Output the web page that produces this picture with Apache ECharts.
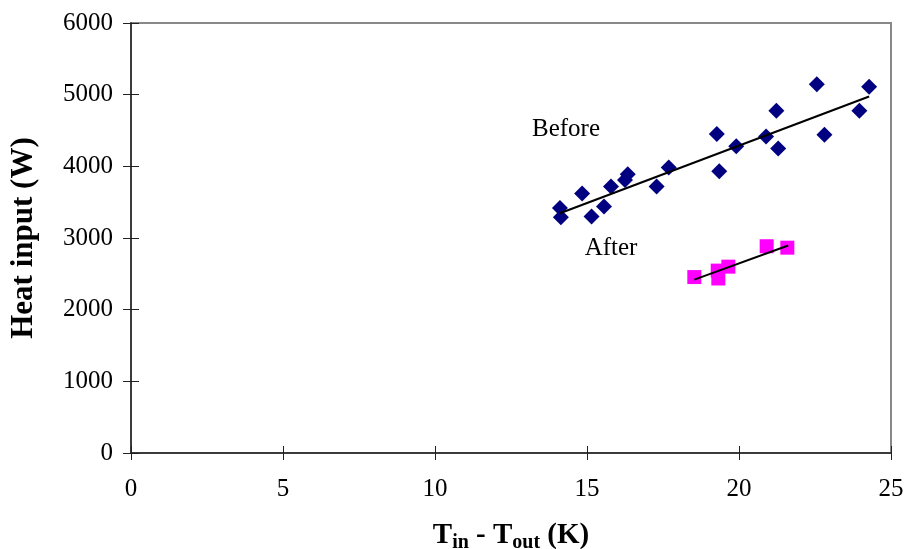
<!DOCTYPE html>
<html><head><meta charset="utf-8">
<script src="https://cdn.jsdelivr.net/npm/echarts@6/dist/echarts.min.js"></script>
<style>html,body{margin:0;padding:0;background:#fff}#c{width:906px;height:549px}</style>
</head><body><div id="c"></div>
<script>
const beforeX = [14.11,14.14,14.84,15.15,15.56,15.79,16.25,16.34,17.29,17.69,19.27,19.35,19.91,20.89,21.23,21.29,22.56,22.81,23.96,24.28];
const beforeY = [3420,3290,3620,3300,3440,3720,3810,3890,3720,3985,4450,3930,4280,4415,4775,4250,5145,4440,4775,5110];
const afterX = [18.53,19.30,19.32,19.65,20.91,21.59];
const afterY = [2455,2545,2435,2600,2885,2865];
const beforeTrendX = [14.11,24.28];
const beforeTrendY = [3345,4975];
const afterTrendX = [18.53,21.62];
const afterTrendY = [2420,2895];
const xTicks = [0,5,10,15,20,25];
const yTicks = [0,1000,2000,3000,4000,5000,6000];
const labels = [{name:'Before', x:14.31, y:4510},{name:'After', x:15.79, y:2855}];

const zip = (a,b)=>a.map((v,i)=>[v,b[i]]);
const font = 'Liberation Serif';
const chart = echarts.init(document.getElementById('c'), null, {renderer:'canvas'});
const baseX = {type:'value', min:xTicks[0], max:xTicks[xTicks.length-1], interval:5, position:'bottom', splitLine:{show:false}};
const baseY = {type:'value', min:yTicks[0], max:yTicks[yTicks.length-1], interval:1000, position:'left', splitLine:{show:false}};
chart.setOption({
  backgroundColor:'#fff',
  animation:false,
  grid:{left:131, right:15, top:23, bottom:96, containLabel:false, outerBoundsMode:'none', show:true, borderColor:'#888', borderWidth:2, backgroundColor:'#fff'},
  xAxis:[
    Object.assign({}, baseX, {
      axisLine:{lineStyle:{color:'#222', width:1.5}},
      axisTick:{length:7, lineStyle:{color:'#222'}},
      axisLabel:{fontFamily:font, fontSize:25, color:'#000', margin:24, formatter:v=>String(v)},
      name:'{b|T}{s|in}{b| - T}{s|out}{b| (K)}', nameLocation:'middle', nameGap:66,
      nameTextStyle:{rich:{b:{fontFamily:font, fontSize:29, fontWeight:'bold', color:'#000'}, s:{fontFamily:font, fontSize:20, fontWeight:'bold', color:'#000', verticalAlign:'bottom', padding:[14,0,0,0]}}}
    }),
    Object.assign({}, baseX, {axisLine:{show:false}, axisTick:{inside:true, length:7, lineStyle:{color:'#222'}}, axisLabel:{show:false}})
  ],
  yAxis:[
    Object.assign({}, baseY, {
      axisLine:{lineStyle:{color:'#222', width:1.5}},
      axisTick:{length:8, lineStyle:{color:'#222'}},
      axisLabel:{fontFamily:font, fontSize:25, color:'#000', margin:18, formatter:v=>String(v)},
      name:'Heat input (W)', nameLocation:'middle', nameGap:92, nameRotate:90,
      nameTextStyle:{fontFamily:font, fontSize:31, fontWeight:'bold', color:'#000'}
    }),
    Object.assign({}, baseY, {axisLine:{show:false}, axisTick:{inside:true, length:8, lineStyle:{color:'#222'}}, axisLabel:{show:false}})
  ],
  series:[
    {type:'line', data:zip(beforeTrendX,beforeTrendY), symbol:'none', lineStyle:{color:'#000', width:2}, z:3},
    {type:'line', data:zip(afterTrendX,afterTrendY), symbol:'none', lineStyle:{color:'#000', width:2}, z:3},
    {type:'scatter', name:'Before', data:zip(beforeX,beforeY), symbol:'diamond', symbolSize:[16,16], itemStyle:{color:'#000080', opacity:1}, z:2,
      markPoint:{symbol:'rect', symbolSize:1, itemStyle:{color:'transparent'},
        label:{show:true, formatter:'{b}', fontFamily:font, fontSize:25, color:'#000', position:'inside'},
        data:labels.map(l=>({name:l.name, coord:[l.x,l.y]}))}},
    {type:'scatter', name:'After', data:zip(afterX,afterY), symbol:'rect', symbolSize:14, itemStyle:{color:'#ff00ff', opacity:1}, z:2}
  ]
});
</script></body></html>
